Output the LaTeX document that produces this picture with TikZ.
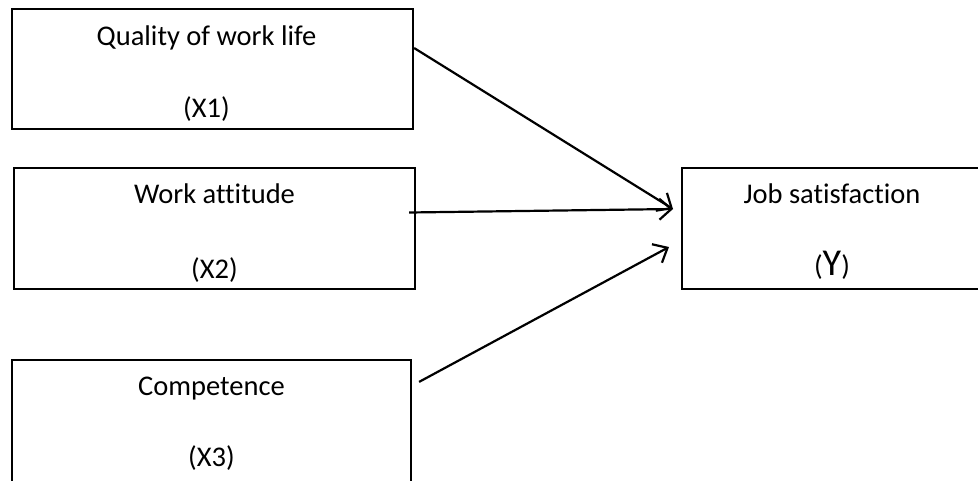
\documentclass[tikz,border=0pt]{standalone}
\usepackage{fontspec}
\setmainfont{Carlito}[Ligatures=NoCommon]
\usetikzlibrary{arrows.meta,positioning}

\begin{document}
\begin{tikzpicture}[
    x=1pt, y=-1pt,
    factor/.style={rectangle, draw, line width=2.2pt, inner sep=0pt},
    arrow/.style={-{Straight Barb[length=12pt,width=21pt,line width=2.2pt]}, line width=2.2pt},
    txt/.style={anchor=base, inner sep=0pt, font=\fontsize{28.5}{34}\selectfont}
]
\useasboundingbox (0,0) rectangle (978,480);
% Boxes
\node[factor, minimum width=401pt, minimum height=120pt] (qwl) at (212.5,69) {};
\node[factor, minimum width=401pt, minimum height=121pt] (att) at (214.5,228.5) {};
\node[factor, minimum width=399pt, minimum height=134pt] (comp) at (211.5,427) {};
\node[factor, minimum width=300pt, minimum height=121pt] (job) at (832,228.5) {};

% Texts
\node[txt] (qwlname) at ([shift={(-6pt,-38pt)}]qwl.north) {Quality of work life};
\node[txt] (qwlvar) at ([shift={(-6pt,-110pt)}]qwl.north) {(X1)};
\node[txt] (attname) at ([yshift=-37pt]att.north) {Work attitude};
\node[txt] (attvar) at ([yshift=-112pt]att.north) {(X2)};
\node[txt] (compname) at ([yshift=-37pt]comp.north) {Competence};
\node[txt] (compvar) at ([yshift=-108pt]comp.north) {(X3)};
\node[txt] (jobname) at ([yshift=-37pt]job.north) {Job satisfaction};
\node[txt] (jobvar) at ([yshift=-109pt]job.north) {(\fontsize{38}{40}\selectfont Y\fontsize{28.5}{34}\selectfont)};

% Arrow ends
\coordinate (tipA) at (673,209);
\coordinate (tipB) at (669,247);

% Arrows
\draw[arrow] ([yshift=21pt]qwl.east) -- (tipA);
\draw[arrow] ([shift={(-7pt,16pt)}]att.east) -- (tipA);
\draw[arrow] ([shift={(7pt,-23pt)}]comp.north east) -- (tipB);
\end{tikzpicture}
\end{document}
